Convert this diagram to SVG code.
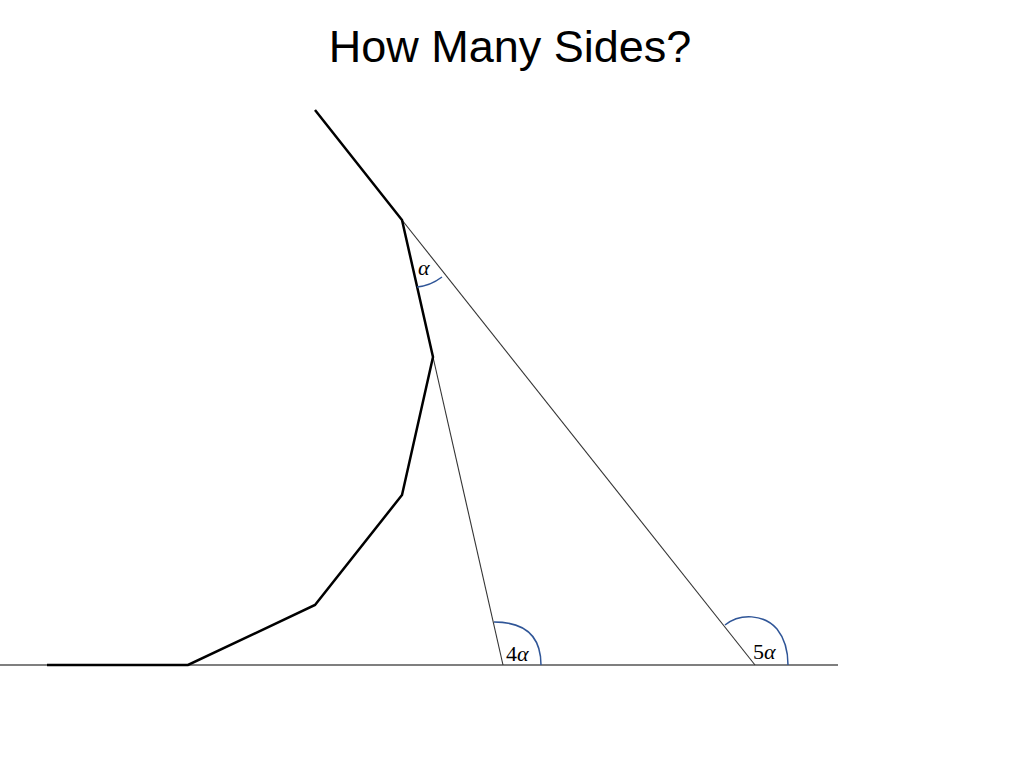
<svg xmlns="http://www.w3.org/2000/svg" width="1024" height="768" viewBox="0 0 1024 768">
<style>
.title{font-family:"Liberation Sans","DejaVu Sans",sans-serif;font-size:45px;fill:#000}
.lbl{font-family:"Liberation Serif","DejaVu Serif",serif;font-size:22px;fill:#000}
.thin{stroke:#333;stroke-width:1.1;fill:none}
.bold{stroke:#000;stroke-width:2.5;fill:none;stroke-linejoin:miter}
.arc{stroke:#2f5597;stroke-width:1.5;fill:none}
</style>
<rect width="1024" height="768" fill="#fff"/>
<text class="title" x="510" y="62" text-anchor="middle">How Many Sides?</text>
<g id="connectors">
<line x1="0" y1="665" x2="838" y2="665" stroke="#7f7f7f" stroke-width="2"/>
<line class="thin" x1="402" y1="220" x2="755" y2="665"/>
<line class="thin" x1="433" y1="357" x2="503" y2="665"/>
</g>
<g id="shape">
<polyline class="bold" points="47,665 188,665 315,605 402,495 433,357 402,220 315,110"/>
</g>
<g id="angle-alpha">
<path class="arc" d="M417,287 Q430,286 442,277"/>
<text class="lbl" x="418" y="275" font-style="italic">α</text>
</g>
<g id="angle-4alpha">
<path class="arc" d="M494,622 Q541,622 541,665"/>
<text class="lbl" x="506" y="661">4<tspan font-style="italic">α</tspan></text>
</g>
<g id="angle-5alpha">
<path class="arc" d="M725,625 C740,613 764,614 777,629 C785,639 788,652 788,665"/>
<text class="lbl" x="753" y="659">5<tspan font-style="italic">α</tspan></text>
</g>
</svg>
